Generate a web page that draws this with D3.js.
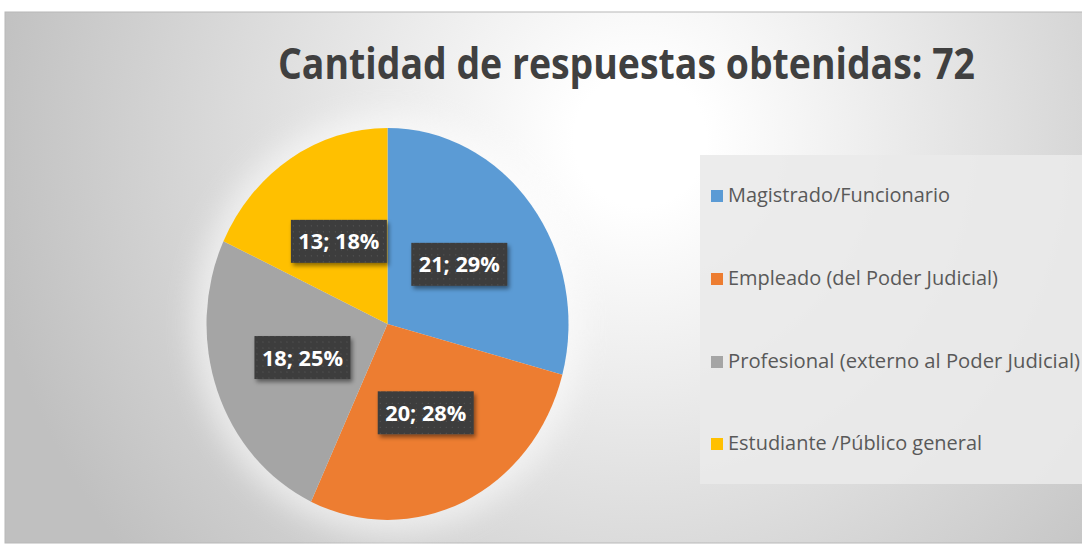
<!DOCTYPE html>
<html><head><meta charset="utf-8">
<script src="https://cdn.jsdelivr.net/npm/d3@7"></script>
<style>html,body{margin:0;padding:0;background:#fff;overflow:hidden}</style>
</head><body>
<svg id="chart" width="1082" height="544"></svg>
<script>
const title = "Cantidad de respuestas obtenidas: 72";
const categories = ["Magistrado/Funcionario","Empleado (del Poder Judicial)","Profesional (externo al Poder Judicial)","Estudiante /Público general"];
const values = [21, 20, 18, 13];
const colors = ["#5B9BD5","#ED7D31","#A5A5A5","#FFC000"];

const svg = d3.select("#chart");
const defs = svg.append("defs");

const bg = defs.append("radialGradient").attr("id","bg").attr("gradientUnits","userSpaceOnUse")
  .attr("cx",640).attr("cy",140).attr("r",660);
bg.append("stop").attr("offset","0.1").attr("stop-color","#ffffff");
bg.append("stop").attr("offset","1").attr("stop-color","#c0c0c0");

const pat = defs.append("pattern").attr("id","dots").attr("patternUnits","userSpaceOnUse")
  .attr("width",6).attr("height",6);
pat.append("rect").attr("width",6).attr("height",6).attr("fill","#3d3d3d");
pat.append("rect").attr("x",2).attr("y",2).attr("width",1).attr("height",1).attr("fill","#5a5a5a");

const sh = defs.append("filter").attr("id","sh").attr("x","-20%").attr("y","-30%").attr("width","150%").attr("height","170%");
sh.append("feDropShadow").attr("dx",2).attr("dy",3).attr("stdDeviation",2).attr("flood-color","#000").attr("flood-opacity",0.45);
const glow = defs.append("filter").attr("id","glow").attr("x","-30%").attr("y","-30%").attr("width","160%").attr("height","160%");
glow.append("feGaussianBlur").attr("stdDeviation",14);

// frame
svg.append("rect").attr("x",5).attr("y",12).attr("width",1090).attr("height",531)
  .attr("fill","url(#bg)").attr("stroke","#b8b8b8").attr("stroke-width",1);

// title
svg.append("text").attr("x",278).attr("y",79)
  .attr("font-family","'Open Sans', 'Noto Sans', sans-serif").attr("font-weight",700)
  .attr("font-size",43).attr("fill","#404040")
  .attr("textLength",697).attr("lengthAdjust","spacingAndGlyphs").text(title);

// pie
const cx = 387.5, cy = 324, R = 196, sx = 181/196;
const pie = d3.pie().sort(null).value(d => d)(values);
const arc = d3.arc().innerRadius(0).outerRadius(R);
const total = d3.sum(values);

svg.append("ellipse").attr("cx",cx).attr("cy",cy).attr("rx",181+14).attr("ry",R+14)
  .attr("fill","#ffffff").attr("opacity",0.55).attr("filter","url(#glow)");

const g = svg.append("g").attr("transform",`translate(${cx},${cy}) scale(${sx},1)`);
g.selectAll("path").data(pie).join("path").attr("d",arc).attr("fill",(d,i)=>colors[i]);

// labels
const lab = svg.append("g");
pie.forEach((d,i) => {
  const [x,y] = arc.centroid(d);
  const px = cx + x*sx, py = cy + y;
  const gg = lab.append("g").attr("transform",`translate(${px},${py})`);
  gg.append("rect").attr("x",-48).attr("y",-21.5).attr("width",96).attr("height",43)
    .attr("fill","url(#dots)").attr("filter","url(#sh)");
  gg.append("text").attr("x",0).attr("y",8).attr("text-anchor","middle")
    .attr("font-family","'Open Sans', 'Noto Sans', sans-serif").attr("font-weight",700)
    .attr("font-size",22).attr("fill","#ffffff")
    .attr("textLength",81).attr("lengthAdjust","spacingAndGlyphs")
    .text(`${values[i]}; ${Math.round(values[i]/total*100)}%`);
});

// legend
svg.append("rect").attr("x",700).attr("y",155).attr("width",400).attr("height",329)
  .attr("fill","#eaeaea").attr("opacity",0.9);
const legW = [222, 270, 352, 254];
const legY = [202, 285, 368, 450];
categories.forEach((c,i) => {
  svg.append("rect").attr("x",711).attr("y",legY[i]-12).attr("width",12).attr("height",12).attr("fill",colors[i]);
  svg.append("text").attr("x",728).attr("y",legY[i])
    .attr("font-family","'Open Sans', 'Noto Sans', sans-serif").attr("font-size",20).attr("fill","#595959")
    .attr("textLength",legW[i]).attr("lengthAdjust","spacingAndGlyphs").text(c);
});
</script>
</body></html>
